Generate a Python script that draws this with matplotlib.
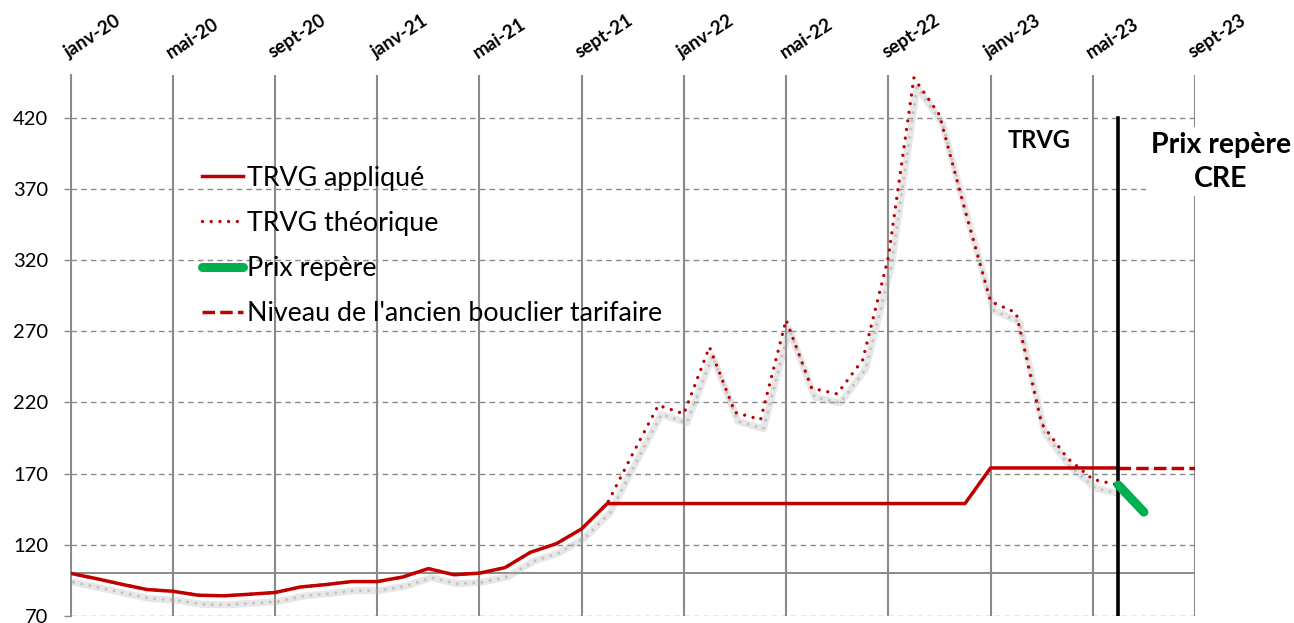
import matplotlib
matplotlib.use('Agg')
import matplotlib.pyplot as plt
import matplotlib.transforms as mtransforms
from matplotlib.lines import Line2D

plt.rcParams['font.family'] = ['Lato', 'DejaVu Sans']

# mois depuis janv-20 (0 = janv-20)
mois_tick = [0, 4, 8, 12, 16, 20, 24, 28, 32, 36, 40, 44]
labels_tick = ['janv-20', 'mai-20', 'sept-20', 'janv-21', 'mai-21', 'sept-21',
               'janv-22', 'mai-22', 'sept-22', 'janv-23', 'mai-23', 'sept-23']

mois = list(range(42))
trvg_applique = [100, 96.3, 92.3, 88.6, 87.4, 84.6, 84.2, 85.3, 86.5, 90.4,
                 92.1, 94.2, 94.2, 97.4, 103.3, 99.0, 100.1, 104, 114.8, 120.7,
                 131.2, 149, 149, 149, 149, 149, 149, 149, 149, 149,
                 149, 149, 149, 149, 149, 149, 174, 174, 174, 174,
                 174, 174]
trvg_theorique = [100, 96.3, 92.3, 88.6, 87.4, 84.6, 84.2, 85.3, 86.5, 90.4,
                  92.1, 94.2, 94.2, 97.4, 103.3, 99.0, 100.1, 104, 114.8, 120.7,
                  131.2, 149, 184, 218, 212, 259, 213, 208, 278, 230,
                  226, 250, 322, 448, 422, 355, 291, 283, 205, 181,
                  166, 162]

mois_repere = [41, 42]
prix_repere = [162, 143]

mois_bouclier = [41, 44]
bouclier = [174, 174]

mois_cre = [41, 41]
ligne_cre = [70, 420]

rouge = '#C00000'
vert = '#00B050'
gris = '#8a8a8a'

fig = plt.figure(figsize=(12.94, 6.23), dpi=100)
ax = fig.add_axes([0.0545, 0.0112, 0.869, 0.8684])

ax.set_xlim(0, 44)
ax.set_ylim(70, 450)
ax.set_yticks([70, 120, 170, 220, 270, 320, 370, 420])
ax.set_xticks(mois_tick)
ax.xaxis.tick_top()
ax.set_xticklabels(labels_tick, rotation=33, ha='left', va='bottom',
                   rotation_mode='anchor', fontweight='bold', fontsize=13.5)
ax.tick_params(axis='x', length=0, pad=10)
ax.tick_params(axis='y', length=5, width=1, color=gris, pad=11, labelsize=14.5)

for s in ['top', 'right', 'bottom']:
    ax.spines[s].set_visible(False)
ax.spines['left'].set_color(gris)
ax.spines['left'].set_linewidth(1.4)

ax.xaxis.grid(True, color=gris, lw=1.5, ls='-')
ax.yaxis.grid(True, color=gris, lw=1.0, ls=(0, (4, 3)))
ax.set_axisbelow(True)
ax.axhline(100, color=gris, lw=1.4, zorder=1)

# ombre de la courbe theorique
ombre = mtransforms.offset_copy(ax.transData, fig=fig, x=2.2, y=-6.5, units='points')
ax.plot(mois, trvg_theorique, color='#b0b0b0', lw=5, alpha=0.3, transform=ombre,
        solid_capstyle='round', zorder=2)
ax.plot(mois, trvg_theorique, color='#a0a0a0', lw=2.2, alpha=0.5, transform=ombre,
        ls=(0, (0.01, 2.7)), dash_capstyle='round', zorder=2)

ax.plot(mois, trvg_theorique, color=rouge, lw=2.4, ls=(0, (0.01, 2.6)),
        dash_capstyle='round', zorder=3)
ax.plot(mois, trvg_applique, color=rouge, lw=2.5, zorder=4)
ax.plot(mois_bouclier, bouclier, color=rouge, lw=2.5, ls=(0, (3.6, 1.5)), zorder=4)
ax.plot(mois_cre, ligne_cre, color='black', lw=2.6, solid_capstyle='projecting', zorder=5)
ax.plot(mois_repere, prix_repere, color=vert, lw=6.5, solid_capstyle='round', zorder=6)

ax.text(37.9, 404, 'TRVG', fontsize=17, fontweight='bold', ha='center', va='center')
ax.text(45.0, 389, 'Prix repère\nCRE', fontsize=20.5, fontweight='bold', ha='center',
        va='center', linespacing=1.4, clip_on=False, zorder=7,
        bbox=dict(facecolor='white', edgecolor='none', pad=3))

handles = [
    Line2D([], [], color=rouge, lw=2.5),
    Line2D([], [], color=rouge, lw=2.4, ls=(0, (0.01, 2.6)), dash_capstyle='round'),
    Line2D([], [], color=vert, lw=6.5, solid_capstyle='round'),
    Line2D([], [], color=rouge, lw=2.5, ls=(0, (3.6, 1.5))),
]
noms = ['TRVG appliqué', 'TRVG théorique', 'Prix repère',
        "Niveau de l'ancien bouclier tarifaire"]
leg = fig.legend(handles, noms, loc='upper left', bbox_to_anchor=(0.156, 0.734),
                 frameon=False, fontsize=19.3, handlelength=1.52, handletextpad=0.15,
                 labelspacing=0.75, borderpad=0, borderaxespad=0)

fig.savefig('out.png', dpi=100)
